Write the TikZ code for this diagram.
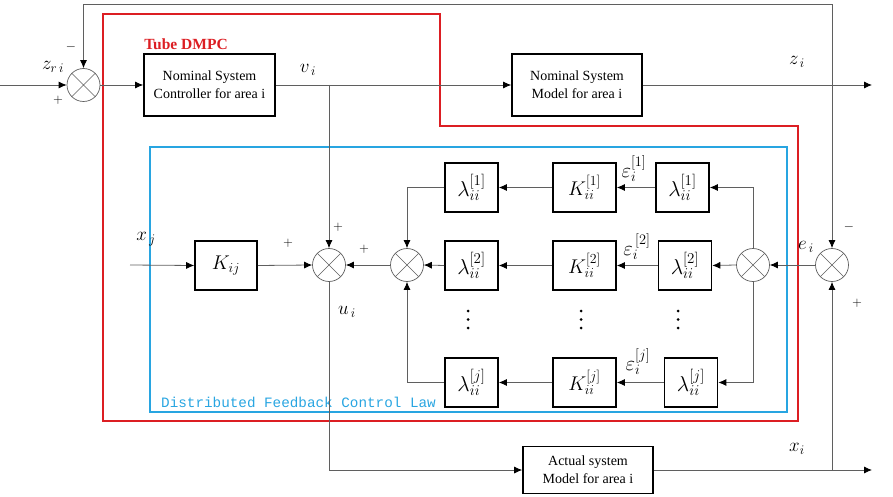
\RequirePackage{fix-cm}
\documentclass[tikz,border=0pt]{standalone}
\usepackage{graphicx}
\usepackage{fontspec}
\setmainfont{Liberation Serif}
\newfontfamily\monofont{Liberation Mono}
\usetikzlibrary{arrows.meta}
\definecolor{linegray}{RGB}{95,95,95}
\definecolor{tubered}{RGB}{220,30,35}
\definecolor{lawblue}{RGB}{40,165,225}
\newcommand{\mscl}[2]{\scalebox{#1}{$#2$}}
\tikzset{
  blk/.style={draw=black, line width=1.6pt, fill=white, inner sep=0pt, align=center, font=\fontsize{14}{18}\selectfont},
  sumnode/.style={circle, draw=linegray, line width=0.7pt, fill=white, minimum size=33pt, inner sep=0pt,
    path picture={\draw[linegray, line width=0.6pt] (path picture bounding box.north west)--(path picture bounding box.south east)
      (path picture bounding box.north east)--(path picture bounding box.south west);}},
  wire/.style={draw=linegray, line width=0.8pt},
  arr/.style={wire, -{Latex[length=8pt,width=7pt,black]}},
  lbl/.style={font=\fontsize{17.28}{20}\selectfont, inner sep=0pt},
  sgn/.style={font=\fontsize{13}{14}\selectfont, inner sep=0pt},
}
\begin{document}
\begin{tikzpicture}[x=1pt,y=-1pt]
\useasboundingbox (0,0) rectangle (893,497);

% frames
\draw[tubered, line width=1.8pt] (103,14) -- (440,14) -- (440,126) -- (798,126) -- (798,421) -- (103,421) -- cycle;
\draw[lawblue, line width=1.6pt] (150,147) rectangle (787,412);
\node[anchor=west, text=lawblue, font=\monofont\fontsize{14.3}{16}\selectfont, inner sep=0pt] (lawtxt) at (161,402) {Distributed Feedback Control Law};
\node[text=tubered, font=\bfseries\fontsize{15.5}{17}\selectfont, inner sep=0pt] (tubetxt) at (186,44) {Tube DMPC};

% coordinates
\coordinate (in) at (0,85);
\coordinate (zout) at (872,85);
\coordinate (zj) at (832,85);
\coordinate (vj) at (329,85);
\coordinate (xjin) at (130,265);
\coordinate (xout) at (872,470);
\coordinate (xj) at (832,470);

% sums
\node[sumnode] (sum1) at (83.5,85) {};
\node[sumnode] (sumu) at (329,265) {};
\node[sumnode] (sum2) at (407,265) {};
\node[sumnode] (sum3) at (753,265) {};
\node[sumnode] (sume) at (832,265) {};

% blocks
\node[blk, minimum width=131pt, minimum height=62pt] (ctrl) at (209.5,85) {Nominal System\\Controller for area i};
\node[blk, minimum width=130pt, minimum height=62pt] (model) at (577,85) {Nominal System\\Model for area i};
\node[blk, minimum width=130pt, minimum height=47pt] (act) at (588,470) {Actual system\\Model for area i};
\node[blk, minimum width=62pt, minimum height=49pt, font=\fontsize{17.28}{20}\selectfont] (kij) at (226,265.5) {\mscl{1.15}{K_{ij}}};

\tikzset{lb/.style={blk, minimum width=53pt, minimum height=49pt, font=\fontsize{17.28}{20}\selectfont},
         kb/.style={blk, minimum width=63pt, minimum height=49pt, font=\fontsize{17.28}{20}\selectfont}}
\node[lb] (l1l) at (471.5,187.5) {\mscl{1.25}{\lambda_{ii}^{[1]}}};
\node[kb] (k1)  at (584.5,187.5) {\mscl{1.15}{K_{ii}^{[1]}}};
\node[lb] (l1r) at (682.5,187.5) {\mscl{1.25}{\lambda_{ii}^{[1]}}};
\node[lb] (l2l) at (471.5,265.5) {\mscl{1.25}{\lambda_{ii}^{[2]}}};
\node[kb] (k2)  at (584.5,265.5) {\mscl{1.15}{K_{ii}^{[2]}}};
\node[lb] (l2r) at (685,265.5) {\mscl{1.25}{\lambda_{ii}^{[2]}}};
\node[lb] (ljl) at (471.5,382.5) {\mscl{1.25}{\lambda_{ii}^{[j]}}};
\node[kb] (kj)  at (584.5,382.5) {\mscl{1.15}{K_{ii}^{[j]}}};
\node[lb] (ljr) at (691,382.5) {\mscl{1.25}{\lambda_{ii}^{[j]}}};

% vertical dots
\foreach \x in {468,581,678}{
  \foreach \y in {311,319.5,328}{
    \fill[black] (\x,\y) circle (1.5);
  }
}

% top loop
\draw[arr] (in) -- (sum1.west);
\draw[arr] (sum1.east) -- (ctrl.west);
\draw[arr] (ctrl.east) -- (model.west);
\draw[arr] (model.east) -- (zout);
\draw[arr] (zj) -- (832,4) -| (sum1.north);
\draw[arr] (zj) -- (sume.north);
\draw[arr] (vj) -- (sumu.north);
\draw[arr] (sumu.south) |- (act.west);
\draw[arr] (act.east) -- (xout);
\draw[arr] (xj) -- (sume.south);

% feedback law
\draw[arr] (xjin) -- (kij.west);
\draw[arr] (kij.east) -- (sumu.west);
\draw[arr] (sum2.west) -- (sumu.east);
\draw[arr] (sume.west) -- (sum3.east);
\draw[arr] (sum3.north) |- (l1r.east);
\draw[arr] (sum3.west) -- (l2r.east);
\draw[arr] (sum3.south) |- (ljr.east);
\draw[arr] (l1r.west) -- (k1.east);
\draw[arr] (k1.west) -- (l1l.east);
\draw[arr] (l1l.west) -| (sum2.north);
\draw[arr] (l2r.west) -- (k2.east);
\draw[arr] (k2.west) -- (l2l.east);
\draw[arr] (l2l.west) -- (sum2.east);
\draw[arr] (ljr.west) -- (kj.east);
\draw[arr] (kj.west) -- (ljl.east);
\draw[arr] (ljl.west) -| (sum2.south);

% labels
\node[lbl] (zri) at (53,67) {\mscl{1.1}{z_{r\,i}}};
\node[sgn] (m1) at (71,47) {$-$};
\node[sgn] (p1) at (58,100) {$+$};
\node[lbl] (vi) at (308,70) {\mscl{1.1}{v_{\,i}}};
\node[lbl] (zi) at (797,62) {\mscl{1.1}{z_{\,i}}};
\node[lbl] (xjl) at (146,239) {\mscl{1.1}{x_{\,j}}};
\node[sgn] (p2) at (288,243) {$+$};
\node[sgn] (p3) at (338,227) {$+$};
\node[sgn] (p4) at (364,249) {$+$};
\node[lbl] (ui) at (347,312) {\mscl{1.1}{u_{\,i}}};
\node[lbl] (e1) at (634,169) {\mscl{1.2}{\varepsilon_i^{[1]}}};
\node[lbl] (e2) at (637,247) {\mscl{1.2}{\varepsilon_i^{\,[2]}}};
\node[lbl] (ej) at (638,362) {\mscl{1.2}{\varepsilon_i^{[j]}}};
\node[lbl] (ei) at (806,247) {\mscl{1.1}{e_{\,i}}};
\node[sgn] (m2) at (849,227) {$-$};
\node[sgn] (p5) at (857,303) {$+$};
\node[lbl] (xi) at (797,449) {\mscl{1.1}{x_i}};
\end{tikzpicture}
\end{document}
